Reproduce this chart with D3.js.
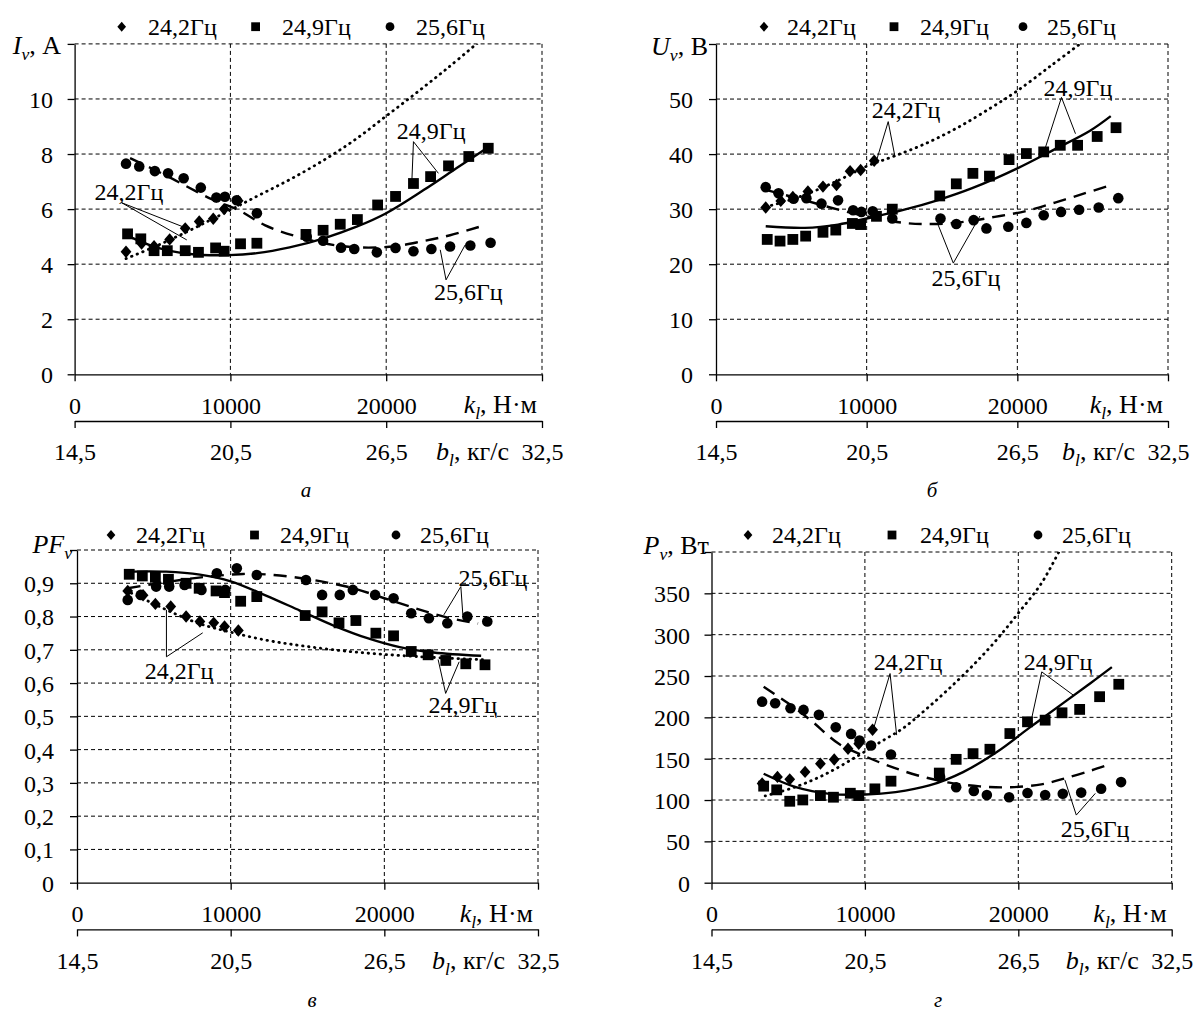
<!DOCTYPE html>
<html>
<head>
<meta charset="utf-8">
<script src="https://cdn.jsdelivr.net/npm/d3@7/dist/d3.min.js"></script>
<style>
  body { margin: 0; background: #fff; }
  svg, svg text { font-family: "Liberation Serif", "DejaVu Serif", serif; }
</style>
</head>
<body>
<svg id="chart" width="1195" height="1016"></svg>
<script>
// k_l values (Н·м) of the three measurement series
const kF242 = [3300, 4300, 5100, 6100, 7100, 8000, 8900, 9600, 10500]
const kF249 = [3400, 4250, 5100, 5950, 7100, 7950, 9050, 9600, 10650, 11700, 14850, 15950, 17050, 18150, 19450, 20600, 21750, 22850, 24000, 25300, 26550]
const kF256 = [3300, 4150, 5150, 6000, 7000, 8100, 9100, 9650, 10400, 11700, 14900, 15950, 17100, 17950, 19400, 20600, 21750, 22900, 24100, 25400, 26700]

// а) I_v, A
const iF242 = [4.45, 4.75, 4.65, 4.9, 5.3, 5.55, 5.65, 6.0, 6.3]
const iF249 = [5.1, 4.92, 4.49, 4.49, 4.49, 4.43, 4.59, 4.47, 4.74, 4.76, 5.08, 5.23, 5.45, 5.62, 6.15, 6.46, 6.93, 7.18, 7.57, 7.91, 8.21]
const iF256 = [7.65, 7.55, 7.38, 7.3, 7.12, 6.78, 6.42, 6.45, 6.32, 5.85, 5.0, 4.85, 4.6, 4.55, 4.43, 4.59, 4.47, 4.55, 4.64, 4.68, 4.78]
// б) U_v, B
const uF242 = [30.3, 31.5, 32.2, 33.2, 34.1, 34.4, 36.9, 37.1, 38.8]
const uF249 = [24.5, 24.2, 24.5, 25.1, 25.8, 26.2, 27.4, 27.2, 28.7, 30.0, 32.4, 34.6, 36.5, 36.0, 39.0, 40.1, 40.4, 41.6, 41.6, 43.2, 44.8]
const uF256 = [34.0, 32.9, 31.9, 32.0, 31.0, 31.6, 29.8, 29.5, 29.6, 28.3, 28.3, 27.3, 28.0, 26.5, 26.8, 27.5, 28.9, 29.5, 29.9, 30.3, 32.0]
// в) PF_v
const pfF242 = [0.877, 0.864, 0.838, 0.83, 0.80, 0.785, 0.781, 0.77, 0.758]
const pfF249 = [0.927, 0.922, 0.918, 0.912, 0.90, 0.885, 0.877, 0.872, 0.846, 0.86, 0.803, 0.814, 0.781, 0.788, 0.75, 0.742, 0.695, 0.685, 0.668, 0.658, 0.655]
const pfF256 = [0.85, 0.865, 0.89, 0.89, 0.895, 0.88, 0.93, 0.88, 0.945, 0.925, 0.91, 0.865, 0.865, 0.88, 0.865, 0.855, 0.81, 0.795, 0.78, 0.80, 0.785]
// г) P_v, Вт
const pF242 = [120, 128, 125, 134, 144, 149, 162, 168, 185]
const pF249 = [116.8, 112.3, 98.5, 100.1, 105.4, 103.4, 108.2, 105.4, 113.5, 122.8, 132.6, 149.2, 156.1, 161.4, 180.4, 194.6, 196.6, 205.5, 209.6, 225.0, 240.0]
const pF256 = [219, 217, 211, 209, 203, 188, 180, 172, 166, 155, 128, 115.5, 111, 106, 103.3, 108.5, 106, 107.5, 109, 113.7, 121.7]

// trend lines as [k, value]
const trendI242 = [[3300, 4.2], [5000, 4.6], [7000, 5.12], [10000, 5.97], [12000, 6.55], [14000, 7.13], [16000, 7.78], [18000, 8.52], [20000, 9.38], [22000, 10.25], [24000, 11.15], [25900, 12.05]]
const trendI249 = [[3450, 5.02], [5300, 4.6], [7400, 4.37], [9900, 4.33], [11700, 4.4], [13800, 4.61], [16000, 4.94], [18100, 5.36], [20000, 5.85], [22400, 6.69], [24500, 7.48], [26450, 8.21]]
const trendI256 = [[3560, 7.85], [5800, 7.24], [8800, 6.36], [10500, 5.97], [12200, 5.42], [14300, 5.0], [17200, 4.65], [20200, 4.63], [22400, 4.84], [24100, 5.05], [26000, 5.36]]

const trendU242 = [[3300, 30.4], [5500, 32.2], [8100, 35.2], [10000, 37.8], [11700, 39.5], [13900, 41.9], [16100, 44.9], [18300, 48.5], [20000, 51.5], [22300, 56.2], [24300, 60.3]]
const trendU249 = [[3300, 26.9], [5900, 26.6], [8100, 27.2], [10000, 28.3], [12500, 29.9], [14800, 31.7], [17000, 33.8], [20000, 37.4], [22500, 40.9], [24800, 44.2], [26200, 46.9]]
const trendU256 = [[3300, 33.5], [5500, 31.9], [8000, 30.0], [10000, 28.7], [12500, 27.5], [14500, 27.3], [16500, 27.7], [18500, 28.6], [20500, 29.6], [22500, 31.2], [24500, 32.9], [25900, 34.1]]

const trendPF242 = [[3200, 0.878], [4700, 0.845], [6400, 0.808], [8000, 0.778], [10000, 0.753], [12300, 0.729], [14500, 0.713], [16700, 0.70], [18900, 0.69], [21000, 0.683], [23200, 0.677], [26500, 0.67]]
const trendPF249 = [[3200, 0.935], [5800, 0.935], [8000, 0.926], [10000, 0.906], [12300, 0.863], [14500, 0.818], [16700, 0.773], [18900, 0.735], [21000, 0.708], [23200, 0.692], [26300, 0.682]]
const trendPF256 = [[3300, 0.885], [6000, 0.905], [8500, 0.92], [10800, 0.928], [12500, 0.926], [14500, 0.916], [16300, 0.902], [18000, 0.885], [20000, 0.855], [22000, 0.825], [24000, 0.798], [26100, 0.779]]

const trendP242 = [[3500, 105], [5500, 116], [7500, 132], [9500, 153], [11000, 170], [12500, 187], [14000, 210], [15500, 235], [17000, 262], [18500, 292], [20000, 326], [21500, 362], [22700, 402]]
const trendP249 = [[3400, 131.8], [5500, 115.5], [7700, 107.4], [10000, 106.6], [12000, 109.5], [14200, 117.6], [16400, 133.8], [18600, 158.1], [20800, 188.5], [22900, 216.9], [24700, 241.2], [26100, 260.7]]
const trendP256 = [[3400, 237], [5000, 217], [6500, 196], [8300, 168], [10000, 153], [11600, 141], [13400, 130], [15500, 121], [17500, 116.5], [19500, 115.5], [21500, 119], [23000, 126], [24800, 136], [26100, 144]]

// ticks
const kTicks = [0, 10000, 20000, 30000]
const kTickLabels = ['0', '10000', '20000', '']
const bTicks = [14.5, 20.5, 26.5, 32.5]
const seriesNames = ['24,2Гц', '24,9Гц', '25,6Гц']

// callouts: text centre, pointer origin, pointer tips (data units)
const notesI = [
  { text: '24,2Гц', at: [3490, 6.62], from: [3025, 6.23], to: [[6943, 5.36], [7200, 4.88]] },
  { text: '24,9Гц', at: [22890, 8.86], from: [21750, 8.45], to: [[21650, 7.06], [23350, 7.3]] },
  { text: '25,6Гц', at: [25270, 2.99], from: [23840, 3.43], to: [[23470, 4.52], [25070, 4.7]] }
]
const notesU = [
  { text: '24,2Гц', at: [12610, 48.0], from: [11430, 45.9], to: [[10660, 38.9], [11880, 39.5]] },
  { text: '24,9Гц', at: [24020, 52.0], from: [22930, 50.3], to: [[21830, 40.9], [23860, 43.7]] },
  { text: '25,6Гц', at: [16590, 17.5], from: [15750, 20.2], to: [[14750, 27.1], [17520, 28.75]] }
]
const notesPF = [
  { text: '25,6Гц', at: [27070, 0.916], from: [24980, 0.89], to: [[23870, 0.805], [25110, 0.805]] },
  { text: '24,2Гц', at: [6640, 0.639], from: [5820, 0.679], to: [[5820, 0.82], [8180, 0.751]] },
  { text: '24,9Гц', at: [25110, 0.534], from: [23990, 0.569], to: [[23500, 0.671], [24870, 0.664]] }
]
const notesP = [
  { text: '24,2Гц', at: [12810, 268], from: [11640, 253], to: [[10550, 185.4], [12070, 178.5]] },
  { text: '24,9Гц', at: [22590, 268], from: [21530, 255], to: [[20870, 198.7], [23590, 226.8]] },
  { text: '25,6Гц', at: [25000, 65], from: [23780, 81.8], to: [[23040, 124.1], [25020, 108]] }
]

const FONT = '"Liberation Serif", "DejaVu Serif", serif'
const FS = 24
const svg = d3.select('#chart')
const root = svg.append('g').attr('font-family', FONT)

const zip = (ks, vs) => ks.map((k, i) => [k, vs[i]])
const comma = d => String(d).replace('.', ',')

const panels = [
  {
    id: 'a', x0: 74.6, x1: 542, y0: 374.3, yTop: 43.9, yMax: 12, yTicks: [0, 2, 4, 6, 8, 10, 12],
    yLabelX: 53, title: [['I', 1], ['v', 1, 1], [', А', 0]], titleX: 61, titleY: 47,
    legendY: 26.7, legendMarks: [121.7, 255.6, 390], legendText: [148, 282, 416],
    caption: 'а', capX: 306, capY: 497,
    series: [zip(kF242, iF242), zip(kF249, iF249), zip(kF256, iF256)],
    trends: [trendI242, trendI249, trendI256], notes: notesI, fmt: d => d
  },
  {
    id: 'b', x0: 716, x1: 1168, y0: 374.3, yTop: 44, yMax: 60, yTicks: [0, 10, 20, 30, 40, 50, 60],
    yLabelX: 693, title: [['U', 1], ['v', 1, 1], [', В', 0]], titleX: 708, titleY: 48,
    legendY: 26.7, legendMarks: [764, 894, 1023], legendText: [787, 920, 1047],
    caption: 'б', capX: 932, capY: 497,
    series: [zip(kF242, uF242), zip(kF249, uF249), zip(kF256, uF256)],
    trends: [trendU242, trendU249, trendU256], notes: notesU, fmt: d => d
  },
  {
    id: 'c', x0: 77, x1: 538, y0: 882.7, yTop: 550, yMax: 1, yTicks: d3.range(0, 11).map(i => i / 10),
    yLabelX: 54, title: [['PF', 1], ['v', 1, 1]], titleX: 72, titleY: 546,
    legendY: 535, legendMarks: [111, 254.5, 396], legendText: [136, 280, 420],
    caption: 'в', capX: 312, capY: 1007,
    series: [zip(kF242, pfF242), zip(kF249, pfF249), zip(kF256, pfF256)],
    trends: [trendPF242, trendPF249, trendPF256], notes: notesPF, fmt: d => comma(d3.format('.1~f')(d))
  },
  {
    id: 'd', x0: 711.5, x1: 1171.7, y0: 882.7, yTop: 552, yMax: 400, yTicks: d3.range(0, 401, 50),
    yLabelX: 690, title: [['P', 1], ['v', 1, 1], [', Вт', 0]], titleX: 709, titleY: 547,
    legendY: 535, legendMarks: [748, 892, 1038], legendText: [772, 920, 1062],
    caption: 'г', capX: 938, capY: 1007,
    series: [zip(kF242, pF242), zip(kF249, pF249), zip(kF256, pF256)],
    trends: [trendP242, trendP249, trendP256], notes: notesP, fmt: d => d
  }
]

const diamond = s => `M0,${-s}L${s * 0.87},0L0,${s}L${-s * 0.87},0Z`
const square = s => `M${-s},${-s}H${s}V${s}H${-s}Z`
const circle = s => d3.symbol(d3.symbolCircle, Math.PI * s * s)()
const markers = [diamond, square, circle]
const markerSize = [6.2, 5.4, 5.3]
const legendSize = [5, 4.4, 4.4]
const trendDash = ['0.5,5.5', null, '13,8']

function richText(g, x, y, parts, anchor, size) {
  const t = g.append('text')
    .attr('x', x).attr('y', y)
    .attr('text-anchor', anchor)
    .attr('font-size', size)
  let shifted = false
  parts.forEach(p => {
    const ts = t.append('tspan').text(p[0])
    if (p[1]) ts.attr('font-style', 'italic')
    if (p[2]) { ts.attr('font-size', size * 0.68).attr('dy', 6); shifted = true }
    else if (shifted) { ts.attr('dy', -6); shifted = false }
  })
  return t
}

function styleAxis(sel) {
  sel.attr('font-family', null).attr('font-size', null)
  sel.select('.domain').attr('stroke-width', 1.3)
  sel.selectAll('.tick line').attr('stroke-width', 1.3)
  sel.selectAll('.tick text').attr('font-size', FS).attr('fill', '#000')
}

function drawPanel(cfg) {
  const g = root.append('g').attr('class', 'panel-' + cfg.id)

  const x = d3.scaleLinear().domain([0, 30000]).range([cfg.x0, cfg.x1])
  const y = d3.scaleLinear().domain([0, cfg.yMax]).range([cfg.y0, cfg.yTop])
  const b = d3.scaleLinear().domain([14.5, 32.5]).range([cfg.x0, cfg.x1])

  // grid
  g.append('g').selectAll('line').data(cfg.yTicks.filter(d => d > 0)).join('line')
    .attr('x1', cfg.x0).attr('x2', cfg.x1)
    .attr('y1', d => y(d)).attr('y2', d => y(d))
    .attr('stroke', '#000').attr('stroke-width', 1).attr('stroke-dasharray', '4,3')
  g.append('g').selectAll('line').data(kTicks.filter(d => d > 0)).join('line')
    .attr('x1', d => x(d)).attr('x2', d => x(d))
    .attr('y1', cfg.yTop).attr('y2', cfg.y0)
    .attr('stroke', '#000').attr('stroke-width', 1).attr('stroke-dasharray', '4,3')

  // left axis
  const yAxis = d3.axisLeft(y).tickValues(cfg.yTicks).tickSize(7).tickSizeOuter(0)
    .tickFormat(d => d === cfg.yMax ? '' : cfg.fmt(d))
  const ya = g.append('g').attr('transform', `translate(${cfg.x0},0)`).call(yAxis)
  styleAxis(ya)
  ya.selectAll('.tick text')
    .attr('x', cfg.yLabelX - cfg.x0).attr('text-anchor', 'end').attr('dy', '0.35em')

  // bottom axis (k_l)
  const xAxis = d3.axisBottom(x).tickValues(kTicks).tickSize(7).tickSizeOuter(0)
    .tickFormat((d, i) => kTickLabels[i])
  const xa = g.append('g').attr('transform', `translate(0,${cfg.y0})`).call(xAxis)
  styleAxis(xa)
  xa.selectAll('.tick text').attr('y', 31).attr('dy', '0.35em')

  // second axis (b_l)
  const bAxis = d3.axisBottom(b).tickValues(bTicks).tickSize(7).tickSizeOuter(0)
    .tickFormat(d => comma(d))
  const ba = g.append('g').attr('transform', `translate(0,${cfg.y0 + 46.7})`).call(bAxis)
  styleAxis(ba)
  ba.selectAll('.tick text').attr('y', 31).attr('dy', '0.35em')

  // axis titles
  richText(g, cfg.titleX, cfg.titleY + 7, cfg.title, 'end', FS + 2)
  richText(g, cfg.x1 - 5, cfg.y0 + 39, [['k', 1], ['l', 1, 1], [', Н·м', 0]], 'end', FS + 2)
  richText(g, cfg.x1 - 33, cfg.y0 + 86, [['b', 1], ['l', 1, 1], [', кг/с', 0]], 'end', FS + 2)

  // clip for trend lines
  const clipId = 'clip-' + cfg.id
  g.append('clipPath').attr('id', clipId).append('rect')
    .attr('x', cfg.x0).attr('y', cfg.yTop)
    .attr('width', cfg.x1 - cfg.x0).attr('height', cfg.y0 - cfg.yTop)

  const line = d3.line().x(d => x(d[0])).y(d => y(d[1])).curve(d3.curveCatmullRom.alpha(0.5))

  // markers
  cfg.series.forEach((pts, si) => {
    g.append('g').selectAll('path').data(pts).join('path')
      .attr('transform', d => `translate(${x(d[0])},${y(d[1])})`)
      .attr('d', markers[si](markerSize[si]))
      .attr('fill', '#000')
  })

  // trend lines
  cfg.trends.forEach((pts, si) => {
    g.append('path').datum(pts)
      .attr('clip-path', `url(#${clipId})`)
      .attr('d', line)
      .attr('fill', 'none').attr('stroke', '#000')
      .attr('stroke-width', si === 0 ? 2.8 : 2.4)
      .attr('stroke-linecap', si === 0 ? 'round' : 'butt')
      .attr('stroke-dasharray', trendDash[si])
  })

  // callouts
  cfg.notes.forEach(n => {
    n.to.forEach(t => {
      g.append('line')
        .attr('x1', x(n.from[0])).attr('y1', y(n.from[1]))
        .attr('x2', x(t[0])).attr('y2', y(t[1]))
        .attr('stroke', '#000').attr('stroke-width', 1)
    })
    g.append('text')
      .attr('x', x(n.at[0])).attr('y', y(n.at[1]))
      .attr('dy', '0.35em').attr('text-anchor', 'middle')
      .attr('font-size', FS)
      .text(n.text)
  })

  // legend
  seriesNames.forEach((name, si) => {
    g.append('path')
      .attr('transform', `translate(${cfg.legendMarks[si]},${cfg.legendY})`)
      .attr('d', markers[si](legendSize[si]))
      .attr('fill', '#000')
    g.append('text')
      .attr('x', cfg.legendText[si]).attr('y', cfg.legendY)
      .attr('dy', '0.35em').attr('font-size', FS)
      .text(name)
  })

  // caption letter
  g.append('text')
    .attr('x', cfg.capX).attr('y', cfg.capY)
    .attr('text-anchor', 'middle').attr('font-style', 'italic')
    .attr('font-size', 21)
    .text(cfg.caption)
}

panels.forEach(drawPanel)
</script>
</body>
</html>
